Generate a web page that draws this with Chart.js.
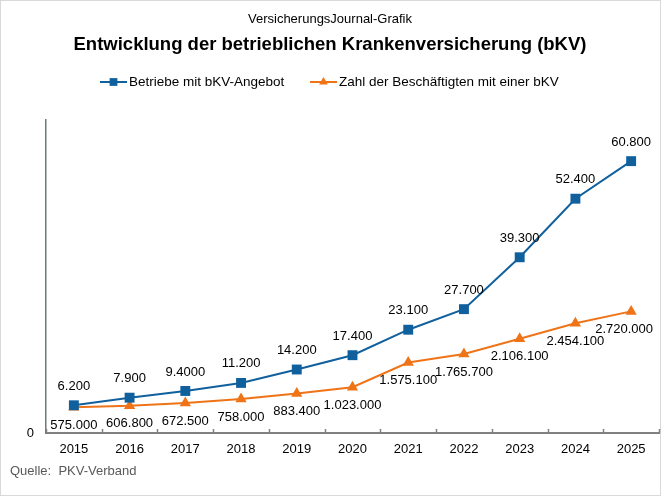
<!DOCTYPE html>
<html>
<head>
<meta charset="utf-8">
<script src="https://cdn.jsdelivr.net/npm/chart.js@4"></script>
<style>
  html, body { margin: 0; padding: 0; background: #fff; }
  #box { width: 661px; height: 496px; }
</style>
</head>
<body>
<div id="box"><canvas id="bkv-chart" width="661" height="496"></canvas></div>
<script>
var years = ['2015', '2016', '2017', '2018', '2019', '2020', '2021', '2022', '2023', '2024', '2025'];
var betriebe = [6200, 7900, 9400, 11200, 14200, 17400, 23100, 27700, 39300, 52400, 60800];
var beschaeftigte = [575000, 606800, 672500, 758000, 883400, 1023000, 1575100, 1765700, 2106100, 2454100, 2720000];
// the source prints 9.400 as "9.4000"
var betriebeLabelFix = { 2: '9.4000' };

var BLUE = '#10609e';
var ORANGE = '#ef7317';
var FONT = '"Liberation Sans", Arial, sans-serif';

function fmt(v) {
  return String(v).replace(/\B(?=(\d{3})+(?!\d))/g, '.');
}

var decor = {
  id: 'decor',
  afterDraw: function(chart) {
    var ctx = chart.ctx;
    var area = chart.chartArea;
    ctx.save();
    // frame
    ctx.strokeStyle = '#d9d9d9';
    ctx.lineWidth = 1;
    ctx.strokeRect(0.5, 0.5, chart.width - 1, chart.height - 1);

    ctx.fillStyle = '#000';
    ctx.textAlign = 'center';
    ctx.textBaseline = 'middle';
    ctx.font = '13px ' + FONT;
    ctx.fillText('VersicherungsJournal-Grafik', 330, 19);
    ctx.font = 'bold 18.5px ' + FONT;
    ctx.fillText('Entwicklung der betrieblichen Krankenversicherung (bKV)', 330, 45);

    // legend: line + marker
    var items = [
      { text: 'Betriebe mit bKV-Angebot', color: BLUE, style: 'rect', r: 5.5, x: 100 },
      { text: 'Zahl der Beschäftigten mit einer bKV', color: ORANGE, style: 'triangle', r: 5, x: 310 }
    ];
    ctx.font = '13.5px ' + FONT;
    ctx.textAlign = 'left';
    items.forEach(function(it) {
      ctx.strokeStyle = it.color;
      ctx.lineWidth = 2;
      ctx.beginPath();
      ctx.moveTo(it.x, 82);
      ctx.lineTo(it.x + 27, 82);
      ctx.stroke();
      ctx.fillStyle = it.color;
      Chart.helpers.drawPoint(ctx, { pointStyle: it.style, radius: it.r, borderWidth: 0 }, it.x + 13.5, 82);
      ctx.fillStyle = '#000';
      ctx.fillText(it.text, it.x + 29, 82);
    });

    // small tick marks between categories, pointing up
    var xs = chart.scales.x;
    var step = xs.getPixelForValue(1) - xs.getPixelForValue(0);
    ctx.strokeStyle = '#808080';
    ctx.lineWidth = 1.5;
    for (var i = 0; i <= years.length; i++) {
      var px = Math.round(xs.getPixelForValue(i) - step / 2) + 0.5;
      ctx.beginPath();
      ctx.moveTo(px, area.bottom);
      ctx.lineTo(px, area.bottom - 4);
      ctx.stroke();
    }

    // data labels
    ctx.font = '13px ' + FONT;
    ctx.textAlign = 'center';
    ctx.fillStyle = '#000';
    chart.data.datasets.forEach(function(ds, di) {
      var meta = chart.getDatasetMeta(di);
      meta.data.forEach(function(pt, j) {
        var txt = di === 0 && betriebeLabelFix[j] ? betriebeLabelFix[j] : fmt(ds.data[j]);
        var w = ctx.measureText(txt).width;
        var x = Math.min(pt.x, area.right - w / 2 - 6);
        var y = di === 0 ? pt.y - 19 : pt.y + 18;
        ctx.fillText(txt, x, y);
      });
    });

    ctx.fillStyle = '#595959';
    ctx.textAlign = 'left';
    ctx.fillText('Quelle:  PKV-Verband', 10, 471);
    ctx.restore();
  }
};

new Chart(document.getElementById('bkv-chart'), {
  type: 'line',
  data: {
    labels: years,
    datasets: [
      {
        label: 'Betriebe mit bKV-Angebot',
        data: betriebe,
        yAxisID: 'y',
        borderColor: BLUE,
        backgroundColor: BLUE,
        borderWidth: 2,
        pointStyle: 'rect',
        pointRadius: 7,
        pointBorderWidth: 0
      },
      {
        label: 'Zahl der Beschäftigten mit einer bKV',
        data: beschaeftigte,
        yAxisID: 'y1',
        borderColor: ORANGE,
        backgroundColor: ORANGE,
        borderWidth: 2,
        pointStyle: 'triangle',
        pointRadius: 6.5,
        pointBorderWidth: 0
      }
    ]
  },
  options: {
    responsive: false,
    animation: false,
    layout: { autoPadding: false, padding: { top: 120, left: 0, right: 2, bottom: 0 } },
    plugins: {
      legend: { display: false },
      title: { display: false },
      tooltip: { enabled: false }
    },
    scales: {
      x: {
        offset: true,
        grid: { display: false, offset: true },
        border: { display: true, color: '#808080', width: 2 },
        ticks: { color: '#000', font: { family: FONT, size: 13 }, padding: 1, maxRotation: 0 },
        afterFit: function(s) { s.height = 63; s.paddingLeft = 0; s.paddingRight = 0; }
      },
      y: {
        min: 0,
        max: 70000,
        grid: { display: false },
        border: { display: true, color: '#6f7a75', width: 1.5 },
        afterBuildTicks: function(s) { s.ticks = [{ value: 0 }]; },
        ticks: { color: '#000', font: { family: FONT, size: 13 }, padding: 4 },
        afterFit: function(s) { s.width = 46; }
      },
      y1: {
        display: false,
        min: 0,
        max: 7000000
      }
    }
  },
  plugins: [decor]
});
</script>
</body>
</html>
